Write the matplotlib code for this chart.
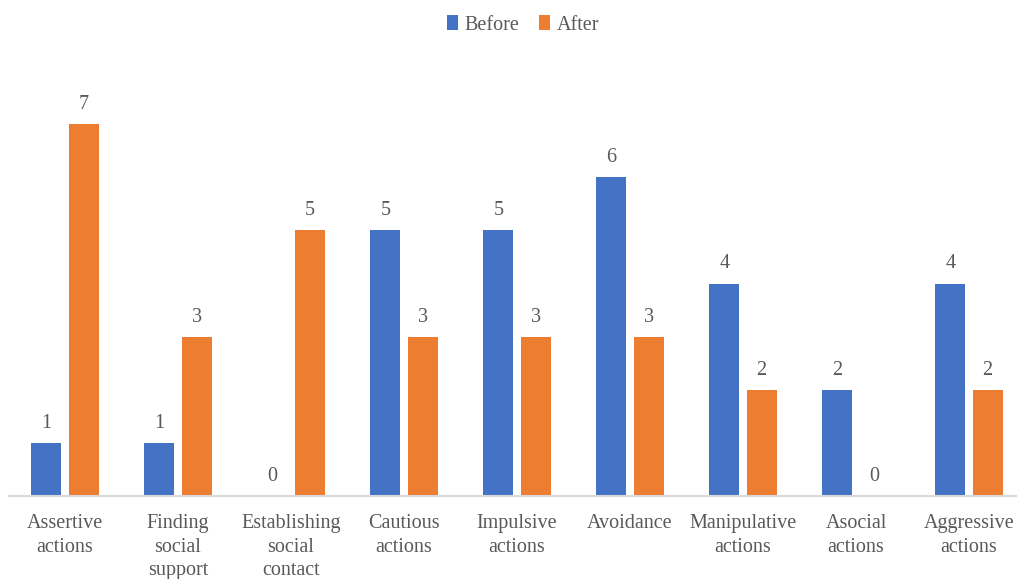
import matplotlib
matplotlib.use("Agg")
import matplotlib.pyplot as plt
import numpy as np

categories = ["Assertive\nactions", "Finding\nsocial\nsupport", "Establishing\nsocial\ncontact",
              "Cautious\nactions", "Impulsive\nactions", "Avoidance", "Manipulative\nactions",
              "Asocial\nactions", "Aggressive\nactions"]
before = [1, 1, 0, 5, 5, 6, 4, 2, 4]
after = [7, 3, 5, 3, 3, 3, 2, 0, 2]

plt.rcParams['font.family'] = ['Liberation Serif', 'DejaVu Serif']
text_color = "#595959"
blue = "#4472C4"
orange = "#ED7D31"

W, H = 1017, 579
fig = plt.figure(figsize=(W / 100, H / 100), dpi=100)
# plot area spans the category bands; the last band runs past the right edge
left_px, right_px = 8.5, 1025.5
base_px, top_px = 496, 71
ax = fig.add_axes([left_px / W, (H - base_px) / H, (right_px - left_px) / W, (base_px - top_px) / H])

x = np.arange(len(categories))
bw = 0.265
off = 0.164
b1 = ax.bar(x - off, before, bw, color=blue, label="Before")
b2 = ax.bar(x + off, after, bw, color=orange, label="After")

for bars, vals in ((b1, before), (b2, after)):
    for rect, v in zip(bars, vals):
        ax.annotate(str(v), (rect.get_x() + rect.get_width() / 2, v),
                    xytext=(0, 10), textcoords="offset pixels",
                    ha="center", va="bottom", fontsize=14.5, color=text_color)

ax.set_xlim(-0.5, len(categories) - 0.5)
ax.set_ylim(0, 8)
ax.set_xticks(x)
ax.set_xticklabels(categories, fontsize=14.5, color=text_color, linespacing=1.33)
ax.tick_params(axis="x", length=0, pad=13)
ax.set_yticks([])
for s in ("top", "right", "left"):
    ax.spines[s].set_visible(False)
ax.spines["bottom"].set_color("#D9D9D9")
ax.spines["bottom"].set_linewidth(1.5)

fig.legend(handles=[b1, b2], labels=["Before", "After"], loc="center",
           bbox_to_anchor=(523 / W, 1 - 25 / H), ncol=2, frameon=False,
           fontsize=14.5, labelcolor=text_color, handlelength=0.55, handleheight=0.7,
           handletextpad=0.3, columnspacing=1.0)

fig.savefig("out.png", dpi=100)
